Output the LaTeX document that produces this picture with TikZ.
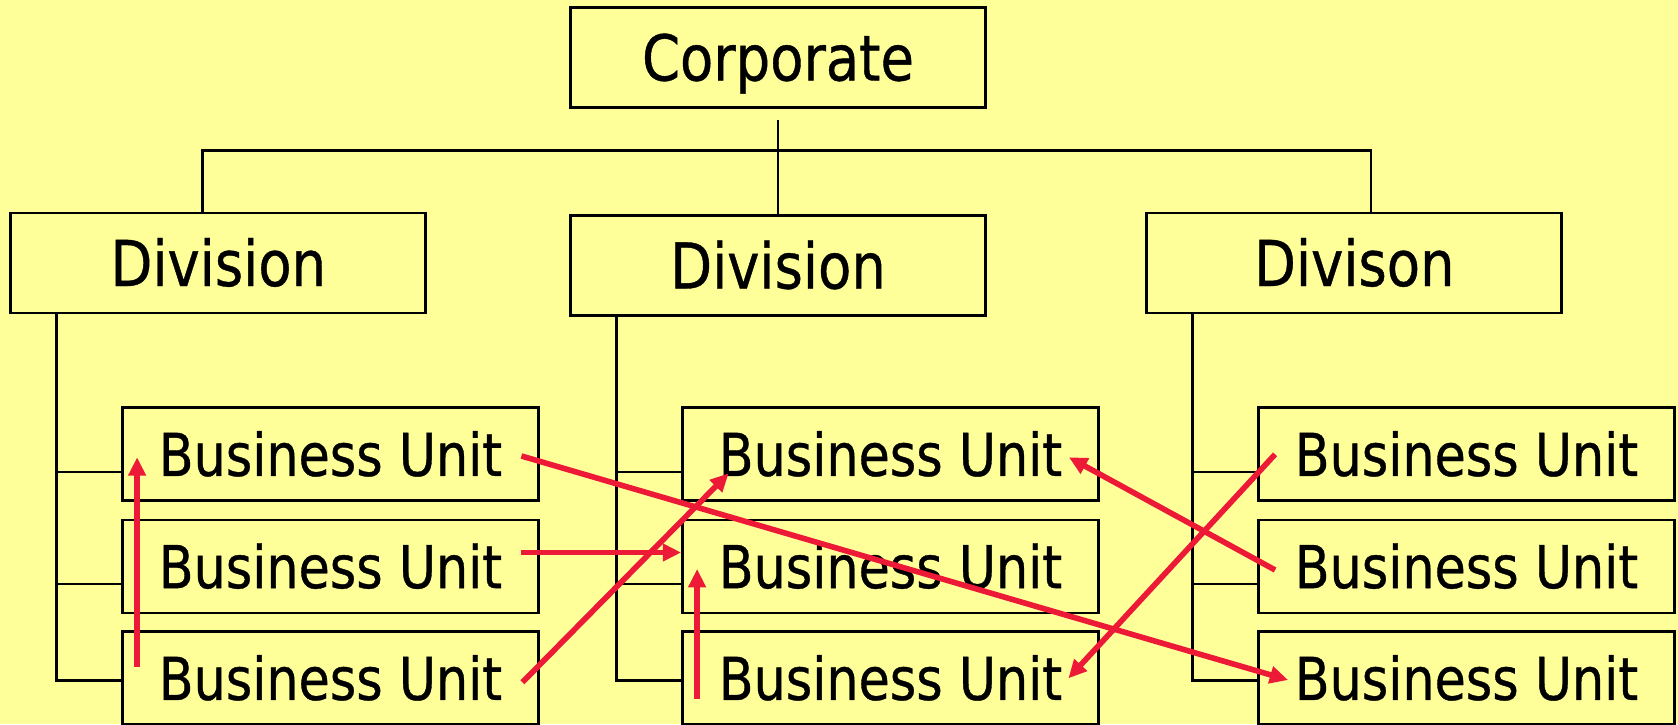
\documentclass[tikz,border=0pt]{standalone}
\usepackage{fontspec}
\setmainfont{DejaVu Sans}[FakeStretch=0.86,FakeBold=0.6]
\usepackage{tikz}
\usetikzlibrary{arrows.meta}

\definecolor{chartbg}{RGB}{255,255,153}
\definecolor{linkred}{RGB}{236,26,54}

\begin{document}
\begin{tikzpicture}[
    head/.style={draw, line width=0.8pt, minimum width=4.15cm, minimum height=1.0cm,
        inner sep=0pt, text height=13.1pt, text depth=0pt, font=\fontsize{18}{20}\selectfont},
    unit/.style={draw, line width=0.8pt, minimum width=4.16cm, minimum height=0.93cm,
        inner sep=0pt, text height=12.3pt, text depth=0pt, font=\fontsize{16.8}{19}\selectfont},
    link/.style={line width=0.7pt},
    move/.style={linkred, line width=1.6pt, -{Triangle[length=5.2pt,width=4.8pt]}}]

            % Draw background
            \fill[chartbg] (0,0) rectangle (16.78,7.24);
            \useasboundingbox (0,0) rectangle (16.78,7.24);

            % Draw top and division boxes
            \node[head] (corp) at (7.78,6.665) {Corporate};
            \node[head] (div1) at (2.183,4.61) {Division};
            \node[head] (div2) at (7.78,4.585) {Division};
            \node[head] (div3) at (13.543,4.61) {Divison};

            % Draw business units
            \node[unit] (bu11) at (3.305,2.697) {Business Unit};
            \node[unit] (bu12) at (3.305,1.575) {Business Unit};
            \node[unit] (bu13) at (3.305,0.457) {Business Unit};
            \node[unit] (bu21) at (8.905,2.697) {Business Unit};
            \node[unit] (bu22) at (8.905,1.575) {Business Unit};
            \node[unit] (bu23) at (8.905,0.457) {Business Unit};
            \node[unit] (bu31) at (14.665,2.697) {Business Unit};
            \node[unit] (bu32) at (14.665,1.575) {Business Unit};
            \node[unit] (bu33) at (14.665,0.457) {Business Unit};

            % Draw tree lines from the top
            \draw[link] ([yshift=-1.15mm]corp.south) -- (div2.north);
            \draw[link] ([xshift=-1.6mm]div1.north) -- ++(0,0.61) -| ([xshift=1.66mm]div3.north);

            % Draw tree lines to the units
            \draw[link] ([xshift=4.72mm]div1.south west) |- ([yshift=-0.2mm]bu13.west);
            \draw[link] ([yshift=-1.75mm]bu11.west) -- ++(-0.645,0);
            \draw[link] ([yshift=-1.75mm]bu12.west) -- ++(-0.645,0);

            \draw[link] ([xshift=4.75mm]div2.south west) |- ([yshift=-0.2mm]bu23.west);
            \draw[link] ([yshift=-1.75mm]bu21.west) -- ++(-0.645,0);
            \draw[link] ([yshift=-1.75mm]bu22.west) -- ++(-0.645,0);

            \draw[link] ([xshift=4.72mm]div3.south west) |- ([yshift=-0.2mm]bu33.west);
            \draw[link] ([yshift=-1.75mm]bu31.west) -- ++(-0.645,0);
            \draw[link] ([yshift=-1.75mm]bu32.west) -- ++(-0.645,0);

            % Draw red arrows between units
            \draw[move] ([xshift=1.6mm,yshift=1.15mm]bu13.west) -- ([xshift=1.6mm,yshift=-0.3mm]bu11.west);
            \draw[move] ([xshift=-1.85mm,yshift=-0.17mm]bu11.east) -- ([xshift=3.1mm,yshift=-0.17mm]bu33.west);
            \draw[move] ([xshift=-1.85mm,yshift=1.4mm]bu12.east) -- ([yshift=1.4mm]bu22.west);
            \draw[move] ([xshift=-1.75mm,yshift=-0.4mm]bu13.east) -- ([xshift=4.75mm,yshift=-1.9mm]bu21.west);
            \draw[move] ([xshift=1.6mm,yshift=-2.1mm]bu23.west) -- ([xshift=1.6mm,yshift=-0.25mm]bu22.west);
            \draw[move] ([xshift=1.8mm,yshift=-0.35mm]bu32.west) -- ([xshift=-3.1mm,yshift=-0.3mm]bu21.east);
            \draw[move] ([xshift=1.8mm]bu31.west) -- ([xshift=-3.15mm]bu23.east);

\end{tikzpicture}
\end{document}
